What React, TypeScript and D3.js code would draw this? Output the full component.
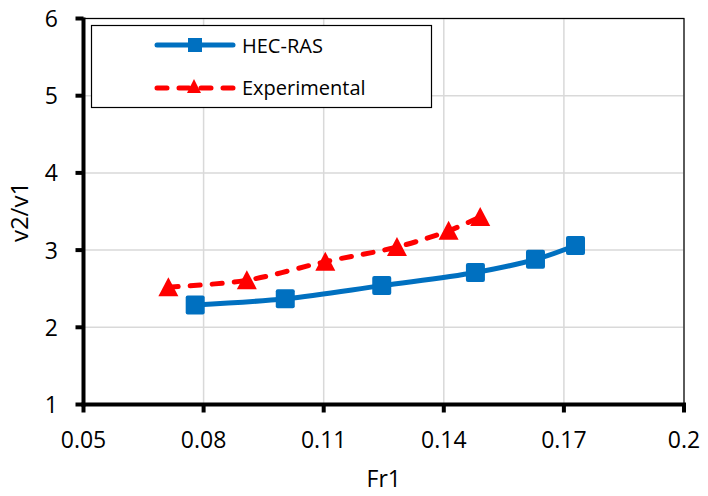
import React from "react";
import * as d3 from "d3";

const hecFr = [0.0779, 0.1004, 0.1245, 0.1479, 0.1629, 0.1729];
const hecV = [2.29, 2.37, 2.54, 2.71, 2.88, 3.06];
const expFr = [0.0712, 0.0908, 0.1104, 0.1283, 0.1412, 0.1491];
const expV = [2.52, 2.61, 2.85, 3.04, 3.25, 3.43];
const xTicks = [0.05, 0.08, 0.11, 0.14, 0.17, 0.2];
const yTicks = [1, 2, 3, 4, 5, 6];

const W = 708;
const H = 496;
const left = 83.5;
const right = 684;
const top = 18.5;
const bottom = 404.5;
const font = "'Open Sans', 'Noto Sans', sans-serif";

const App: React.FC = () => {
  const x = d3.scaleLinear().domain([0.05, 0.2]).range([left, right]);
  const y = d3.scaleLinear().domain([1, 6]).range([bottom, top]);

  const line = d3
    .line<[number, number]>()
    .x((d) => x(d[0]))
    .y((d) => y(d[1]))
    .curve(d3.curveCatmullRom.alpha(0.5));

  const hec = hecFr.map((f, i) => [f, hecV[i]] as [number, number]);
  const exp = expFr.map((f, i) => [f, expV[i]] as [number, number]);

  const sq = 19;
  const tri = (cx: number, cy: number) =>
    `M${cx},${cy - 10}L${cx + 10},${cy + 9}L${cx - 10},${cy + 9}Z`;

  return (
    <svg
      width={W}
      height={H}
      style={{ position: "absolute", left: 0, top: 0, background: "#fff" }}
    >
      {/* grid */}
      {xTicks.slice(1).map((t) => (
        <line key={"gx" + t} x1={x(t)} x2={x(t)} y1={top} y2={bottom} stroke="#d9d9d9" strokeWidth={1.5} />
      ))}
      {yTicks.slice(1).map((t) => (
        <line key={"gy" + t} x1={left} x2={right} y1={y(t)} y2={y(t)} stroke="#d9d9d9" strokeWidth={1.5} />
      ))}
      {/* plot border */}
      <rect x={left} y={top} width={right - left} height={bottom - top} fill="none" stroke="#000" strokeWidth={1.2} />
      {/* axes */}
      <line x1={left} x2={left} y1={top - 1} y2={bottom + 2} stroke="#000" strokeWidth={4} />
      <line x1={left - 2} x2={right + 2} y1={bottom} y2={bottom} stroke="#000" strokeWidth={4} />
      {yTicks.map((t) => (
        <g key={"ty" + t}>
          <line x1={left - 8} x2={left} y1={y(t)} y2={y(t)} stroke="#000" strokeWidth={4} />
          <text x={58} y={y(t) + 8.5} textAnchor="end" fontFamily={font} fontSize={23}>
            {t}
          </text>
        </g>
      ))}
      {xTicks.map((t) => (
        <g key={"tx" + t}>
          <line x1={x(t)} x2={x(t)} y1={bottom} y2={bottom + 8} stroke="#000" strokeWidth={4} />
          <text x={x(t)} y={448} textAnchor="middle" fontFamily={font} fontSize={23}>
            {t}
          </text>
        </g>
      ))}
      <text x={(left + right) / 2} y={487} textAnchor="middle" fontFamily={font} fontSize={23}>
        Fr1
      </text>
      <text
        transform={`translate(28,212) rotate(-90)`}
        textAnchor="middle"
        fontFamily={font}
        fontSize={24}
      >
        v2/v1
      </text>

      {/* series */}
      <path d={line(exp) ?? ""} fill="none" stroke="#ff0000" strokeWidth={5} strokeDasharray="10 12" strokeLinecap="round" />
      {exp.map((d, i) => (
        <path key={"e" + i} d={tri(x(d[0]), y(d[1]))} fill="#ff0000" />
      ))}
      <path d={line(hec) ?? ""} fill="none" stroke="#0070c0" strokeWidth={5} strokeLinecap="round" />
      {hec.map((d, i) => (
        <rect key={"h" + i} x={x(d[0]) - sq / 2} y={y(d[1]) - sq / 2} width={sq} height={sq} rx={2} fill="#0070c0" />
      ))}

      {/* legend */}
      <rect x={91.5} y={25.5} width={340} height={82} fill="#fff" stroke="#000" strokeWidth={1.2} />
      <line x1={157} x2={233} y1={45} y2={45} stroke="#0070c0" strokeWidth={5} strokeLinecap="round" />
      <rect x={195 - 7} y={45 - 7} width={14} height={14} fill="#0070c0" />
      <text x={242} y={53} fontFamily={font} fontSize={20}>
        HEC-RAS
      </text>
      <line x1={157} x2={233} y1={88} y2={88} stroke="#ff0000" strokeWidth={5} strokeDasharray="10 12" strokeLinecap="round" />
      <path d={`M194,79L201,93L187,93Z`} fill="#ff0000" />
      <text x={242} y={95} fontFamily={font} fontSize={20}>
        Experimental
      </text>
    </svg>
  );
};

export default App;
